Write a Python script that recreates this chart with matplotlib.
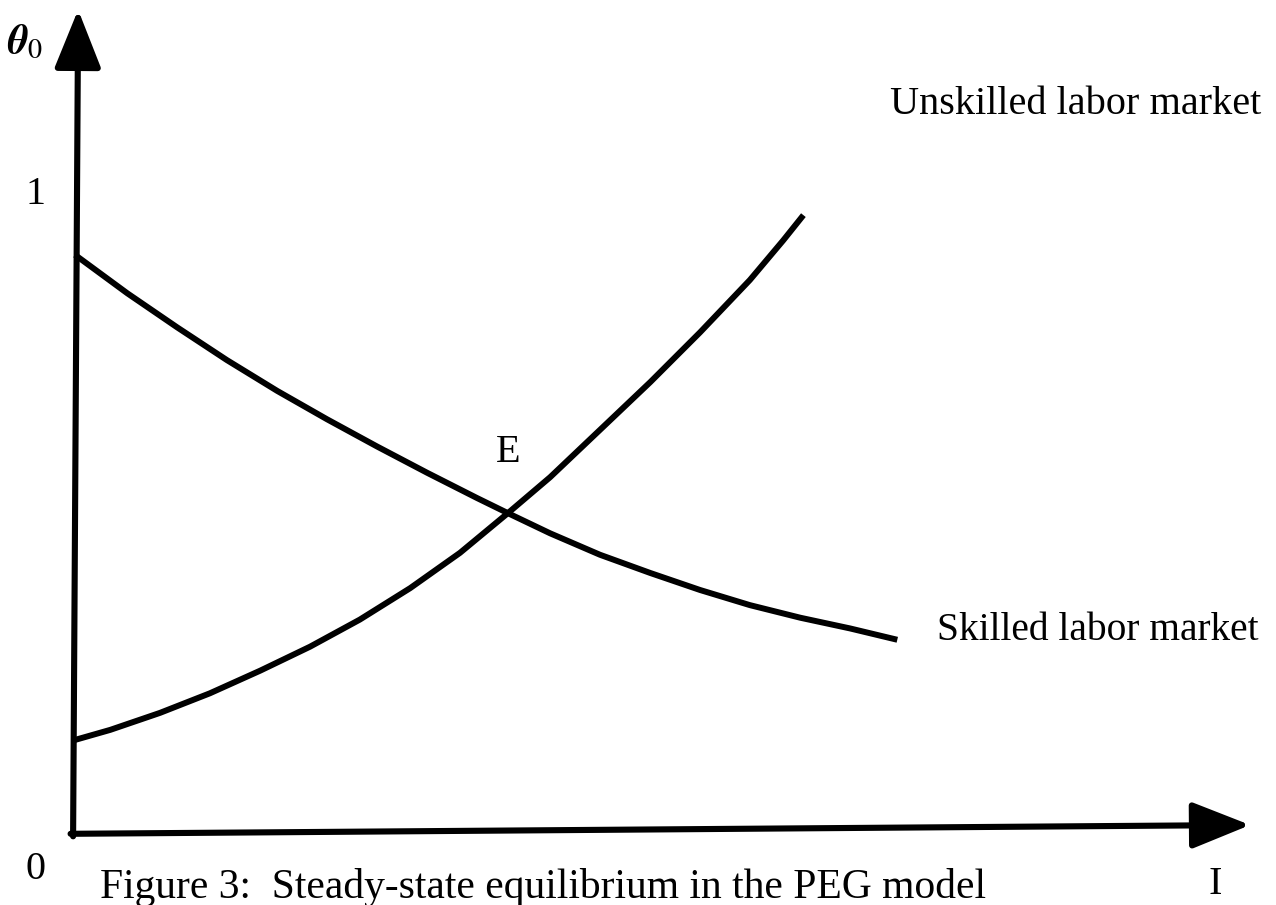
"""Steady-state equilibrium diagram (PEG model), redrawn."""
import matplotlib
matplotlib.use("Agg")
import matplotlib.pyplot as plt

# curves, in axis units (x = I, y = theta_0)
skilled_x = [0.0, 0.083, 0.162, 0.241, 0.321, 0.400, 0.479, 0.559, 0.638, 0.687,
             0.754, 0.833, 0.913, 0.992, 1.071, 1.151, 1.230, 1.305]
skilled_y = [0.913, 0.852, 0.798, 0.746, 0.697, 0.652, 0.609, 0.567, 0.527, 0.503,
             0.471, 0.437, 0.408, 0.381, 0.357, 0.337, 0.320, 0.302]
unskilled_x = [0.0, 0.056, 0.135, 0.214, 0.294, 0.373, 0.452, 0.532, 0.611, 0.687,
               0.754, 0.833, 0.913, 0.992, 1.071, 1.124, 1.156]
unskilled_y = [0.143, 0.159, 0.186, 0.217, 0.253, 0.291, 0.334, 0.384, 0.440, 0.503,
               0.560, 0.635, 0.711, 0.790, 0.873, 0.936, 0.976]

equilibrium = (0.687, 0.503)
y_ticks = [1]
x_end = 1.865
y_end = 1.302

plt.rcParams["font.family"] = ["Liberation Serif", "DejaVu Serif"]
plt.rcParams["mathtext.fontset"] = "stix"

fig = plt.figure(figsize=(12.76, 9.05), dpi=100)
ax = fig.add_axes([0, 0, 1, 1])
ax.set_xlim(-0.119, 1.906)
ax.set_ylim(-0.119, 1.3175)
ax.axis("off")

# axes drawn as arrows
arrow = dict(arrowstyle="-|>,head_length=1.0,head_width=0.4", lw=4.4, color="black",
             mutation_scale=36, shrinkA=0, shrinkB=0)
ax.annotate("", xy=(0.005, y_end), xytext=(-0.003, -0.010), arrowprops=arrow)
ax.annotate("", xy=(x_end, 0.008), xytext=(-0.007, -0.006), arrowprops=arrow)

for xs, ys in [(skilled_x, skilled_y), (unskilled_x, unskilled_y)]:
    ax.plot(xs, ys, color="black", lw=4.3, solid_capstyle="butt", solid_joinstyle="round")

ax.text(-0.079, 1.250, r"$\boldsymbol{\theta}_0$", fontsize=29, ha="center", va="center")
for t in y_ticks:
    ax.text(-0.063, t + 0.008, str(t), fontsize=29, ha="center", va="center")
ax.text(-0.063, -0.063, "0", fontsize=29, ha="center", va="center")
ax.text(1.810, -0.087, "I", fontsize=29, ha="center", va="center")
ax.text(equilibrium[0], equilibrium[1] + 0.097, "E", fontsize=29, ha="center", va="center")
ax.text(1.294, 1.151, "Unskilled labor market", fontsize=29, ha="left", va="center")
ax.text(1.368, 0.317, "Skilled labor market", fontsize=28.4, ha="left", va="center")
ax.text(0.040, -0.108, "Figure 3:  Steady-state equilibrium in the PEG model",
        fontsize=29.9, ha="left", va="baseline")

fig.savefig("out.png", dpi=100, facecolor="white")
